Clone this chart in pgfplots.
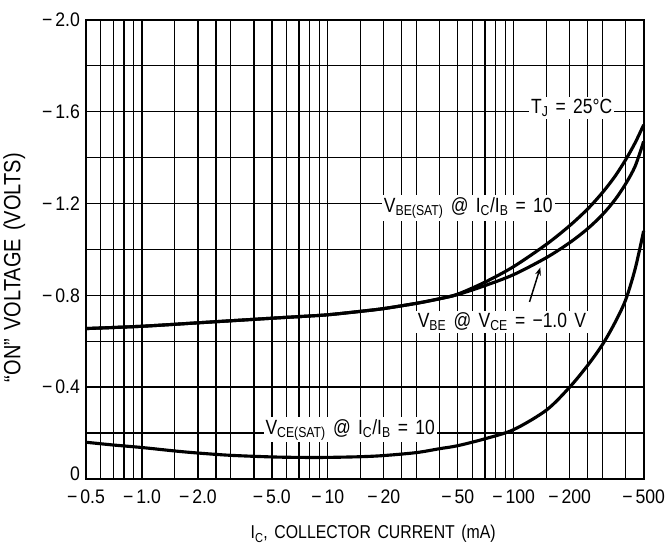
\documentclass[border=0pt]{standalone}
\usepackage{pgfplots}
\pgfplotsset{compat=1.18}
\usetikzlibrary{arrows.meta}
\usepackage{fontspec}
\setmainfont{Liberation Sans}
\newfontfamily\cf{Liberation Sans}[FakeStretch=0.85, WordSpace=1.5]
\newfontfamily\tf{Liberation Sans}[FakeStretch=0.9]
\newcommand{\m}{−\kern3bp}
\begin{document}
\begin{tikzpicture}
\begin{axis}[
  scale only axis,
  width=567bp, height=467bp,
  xmode=log,
  xmin=0.5, xmax=500,
  ymin=0, ymax=2.0,
  xtick={0.5,1,2,5,10,20,50,100,200,500},
  xticklabels={\m0.5,\m1.0,\m2.0,\m5.0,\m10,\m20,\m50,\m100,\m200,\m500},
  minor xtick={0.6,0.7,0.8,0.9,1.5,2.5,3,4,6,7,8,9,15,25,30,40,60,70,80,90,150,250,300,400},
  ytick={0.4,0.8,1.2,1.6,2.0},
  yticklabels={\m0.4,\m0.8,\m1.2,\m1.6,\m2.0},
  minor ytick={0.2,0.6,1.0,1.4,1.8},
  extra y ticks={0},
  extra y tick labels={0},
  extra y tick style={yticklabel style={yshift=5bp}},
  grid=both,
  major grid style={black, line width=1.3pt},
  minor grid style={black, line width=1.3pt},
  major tick length=0pt, minor tick length=0pt,
  axis line style={black, line width=2.2pt},
  /pgf/number format/assume math mode=true,
  tick label style={font=\tf\fontsize{20}{23}\selectfont},
  xticklabel style={inner sep=0pt, yshift=-11bp},
  yticklabel style={inner sep=0pt, xshift=-6bp},
  xlabel={I\textsubscript{C}, COLLECTOR CURRENT (mA)},
  ylabel={“ON” VOLTAGE (VOLTS)},
  xlabel style={font=\cf\fontsize{19}{22}\selectfont, at={(axis description cs:0.515,-0.12)}, anchor=center},
  ylabel style={font=\cf\fontsize{24}{27}\selectfont, at={(axis description cs:-0.1287,0.46)}, anchor=center},
  clip=false,
]
% V_CE(SAT)
\addplot[black, line width=3.2pt, smooth] coordinates {
 (0.5,0.16) (0.7,0.148) (1,0.137) (1.5,0.122) (2,0.113) (3,0.103) (5,0.096)
 (7,0.094) (10,0.094) (15,0.097) (20,0.102) (30,0.115) (40,0.132) (50,0.145)
 (70,0.175) (100,0.215) (150,0.30) (200,0.40) (250,0.495) (300,0.585) (350,0.68)
 (400,0.78) (450,0.915) (500,1.08)
};
% V_BE(SAT)
\addplot[black, line width=3.2pt, smooth] coordinates {
 (0.5,0.655) (1,0.665) (2,0.68) (5,0.70) (7,0.707) (10,0.715) (15,0.73)
 (20,0.742) (30,0.765) (40,0.785) (50,0.805) (70,0.857) (100,0.925)
 (150,1.022) (200,1.103) (250,1.176) (300,1.247) (350,1.317) (400,1.39) (450,1.464) (500,1.542)
};
% V_BE
\addplot[black, line width=3.2pt, smooth] coordinates {
 (0.5,0.655) (1,0.665) (2,0.68) (5,0.70) (7,0.707) (10,0.715) (15,0.73)
 (20,0.742) (30,0.765) (40,0.785) (50,0.803) (70,0.842) (100,0.89)
 (150,0.964) (200,1.029) (250,1.09) (300,1.151) (350,1.215) (400,1.285) (450,1.362) (500,1.47)
};
\draw[black, line width=1.5pt, -{Stealth[length=8pt,width=6pt]}] (axis cs:121.6,0.771) -- (axis cs:139,0.921);
\node[fill=white, inner sep=2pt, font=\cf\fontsize{21}{24}\selectfont] at (axis cs:205,1.615) {T\textsubscript{J} = 25°C};
\node[fill=white, inner sep=2pt, font=\cf\fontsize{21}{24}\selectfont] at (axis cs:57,1.18) {V\textsubscript{BE(SAT)} @ I\textsubscript{C}/I\textsubscript{B} = 10};
\node[fill=white, inner sep=2pt, font=\cf\fontsize{21}{24}\selectfont] at (axis cs:86.4,0.685) {V\textsubscript{BE} @ V\textsubscript{CE} = −1.0 V};
\node[fill=white, inner sep=2pt, font=\cf\fontsize{21}{24}\selectfont] at (axis cs:13.2,0.214) {V\textsubscript{CE(SAT)} @ I\textsubscript{C}/I\textsubscript{B} = 10};
\end{axis}
\path (current axis.south west) ++(-86bp,-73bp) rectangle ++(665bp,560bp);
\end{tikzpicture}
\end{document}
